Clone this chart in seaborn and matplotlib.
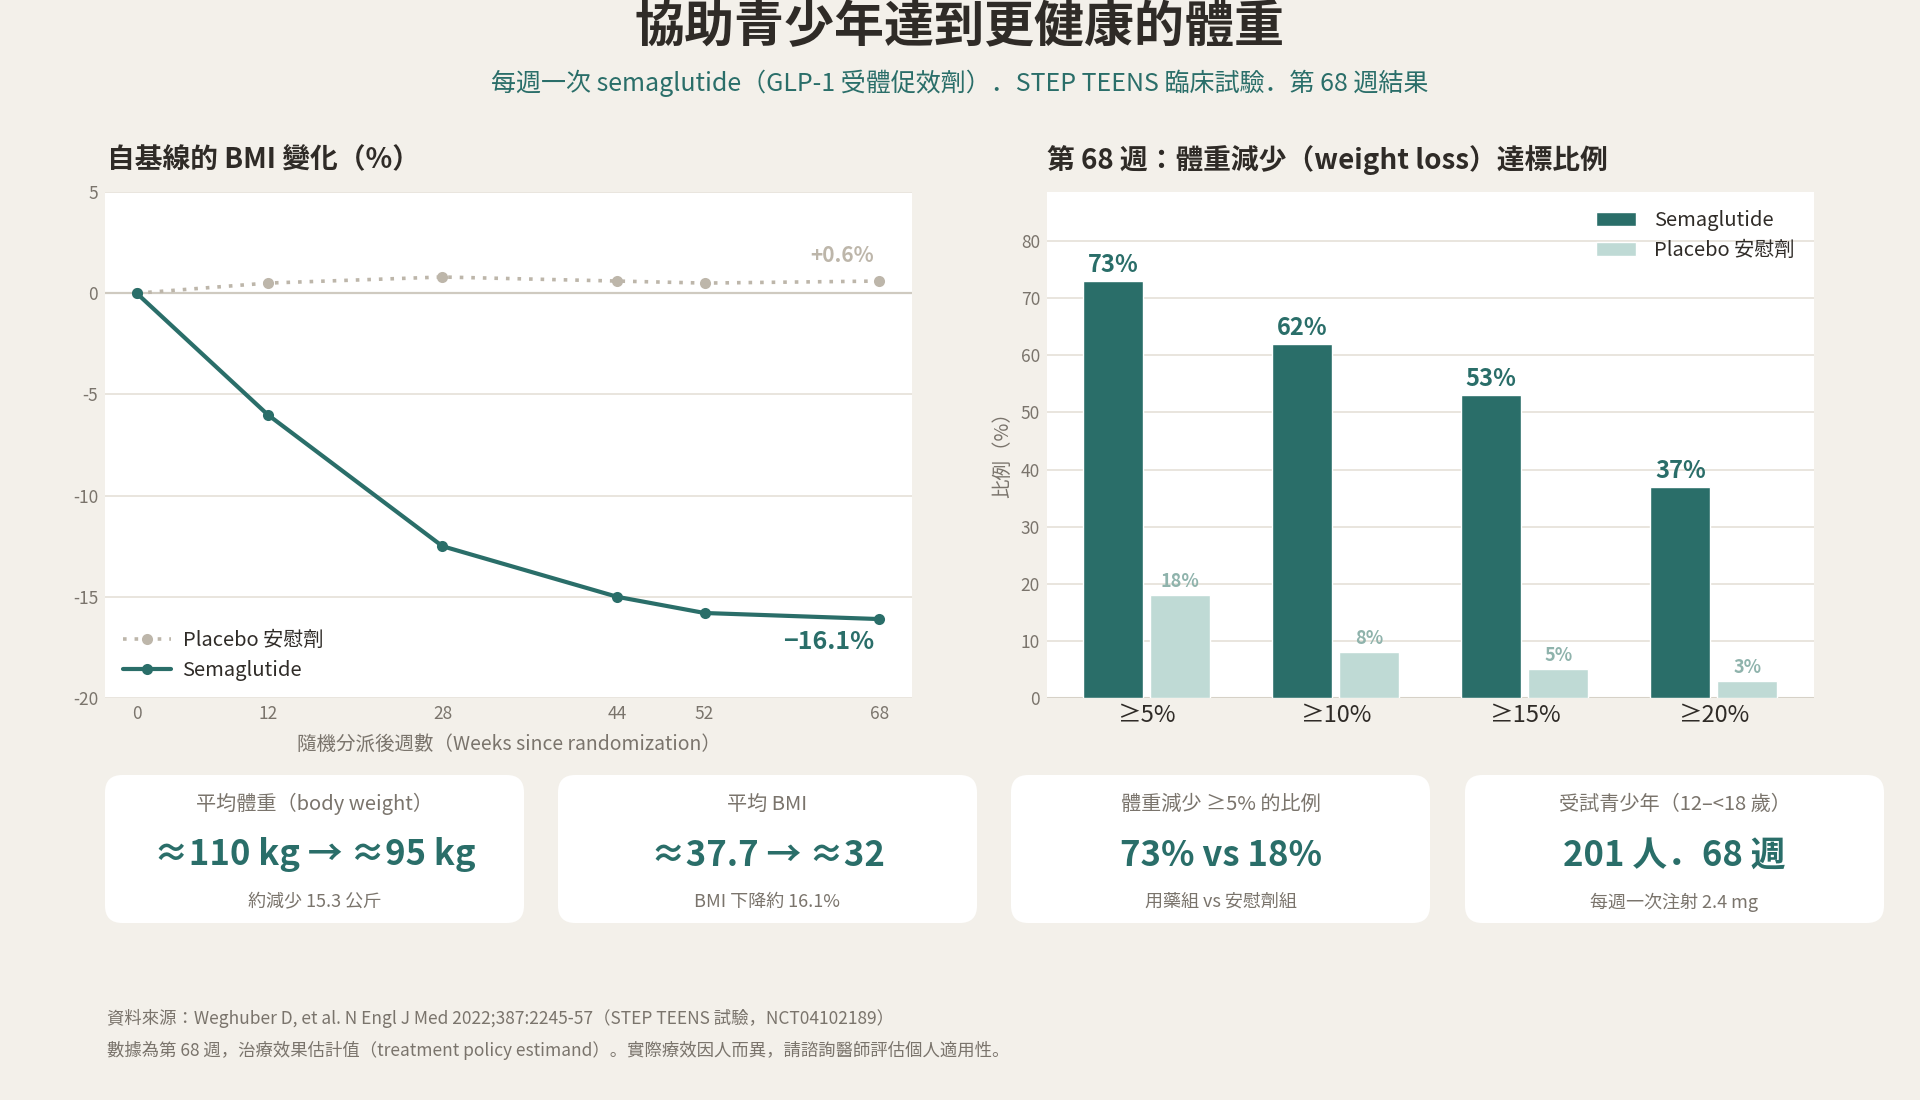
import numpy as np
import pandas as pd
import matplotlib
matplotlib.use("Agg")
import matplotlib.pyplot as plt
from matplotlib.patches import FancyBboxPatch
import seaborn as sns

# ---------------- data ----------------
weeks = [0, 12, 28, 44, 52, 68]
sema_bmi = [0.0, -6.0, -12.5, -15.0, -15.8, -16.1]
placebo_bmi = [0.0, 0.5, 0.8, 0.6, 0.5, 0.6]

thresholds = ["≥5%", "≥10%", "≥15%", "≥20%"]
sema_pct = [73, 62, 53, 37]
placebo_pct = [18, 8, 5, 3]

card_titles = ["平均體重（body weight）", "平均 BMI", "體重減少 ≥5% 的比例", "受試青少年（12–<18 歲）"]
card_values = ["≈110 kg → ≈95 kg", "≈37.7 → ≈32", "73% vs 18%", "201 人．68 週"]
card_notes = ["約減少 15.3 公斤", "BMI 下降約 16.1%", "用藥組 vs 安慰劑組", "每週一次注射 2.4 mg"]

# ---------------- style ----------------
BG = "#f3f0ea"
TEAL = "#2a6e69"
LTEAL = "#bfdad5"
PGREY = "#bdb6aa"
DARK = "#2f2b27"
GREY = "#7a746c"
GRID = "#e7e3db"

sns.set_theme(style="white")
FAM = ["Noto Sans CJK JP", "DejaVu Sans"]
plt.rcParams["font.family"] = FAM
plt.rcParams["axes.unicode_minus"] = False

W, H = 1920, 1100
fig = plt.figure(figsize=(19.2, 11), dpi=100, facecolor=BG)


def fx(px):
    return px / W


def fy(py):
    return 1 - py / H


def add_ax(x0, y0, x1, y1):
    return fig.add_axes([fx(x0), fy(y1), fx(x1) - fx(x0), (y1 - y0) / H])


# titles
fig.text(0.5, fy(28), "協助青少年達到更健康的體重", ha="center", va="center",
         fontsize=36, fontweight="bold", color=DARK)
fig.text(0.5, fy(83), "每週一次 semaglutide（GLP-1 受體促效劑）．STEP TEENS 臨床試驗．第 68 週結果",
         ha="center", va="center", fontsize=18, color=TEAL)

fig.text(fx(107), fy(160), "自基線的 BMI 變化（%）", ha="left", va="center",
         fontsize=20, fontweight="bold", color=DARK)
fig.text(fx(1047), fy(160), "第 68 週：體重減少（weight loss）達標比例", ha="left", va="center",
         fontsize=20, fontweight="bold", color=DARK)

# ---------------- left: line chart ----------------
ax1 = add_ax(105, 192, 912, 698)
ax1.set_facecolor("white")
df_p = pd.DataFrame({"week": weeks, "val": placebo_bmi})
df_s = pd.DataFrame({"week": weeks, "val": sema_bmi})
sns.lineplot(data=df_p, x="week", y="val", ax=ax1, color=PGREY, linestyle=(0, (1, 2.2)),
             linewidth=2.6, marker="o", markersize=8, markeredgewidth=0,
             label="Placebo 安慰劑", zorder=3)
sns.lineplot(data=df_s, x="week", y="val", ax=ax1, color=TEAL, linewidth=3,
             marker="o", markersize=8, markeredgewidth=0, label="Semaglutide", zorder=4)
ax1.set_xlim(-2.9, 71)
ax1.set_ylim(-20, 5)
ax1.set_xticks(weeks)
ax1.set_yticks([-20, -15, -10, -5, 0, 5])
ax1.set_yticklabels(["-20", "-15", "-10", "-5", "0", "5"])
for y in [-20, -15, -10, -5, 5]:
    ax1.axhline(y, color=GRID, linewidth=1.3, zorder=0)
ax1.axhline(0, color="#cfcac0", linewidth=1.6, zorder=1)
for s in ax1.spines.values():
    s.set_visible(False)
ax1.tick_params(axis="both", length=0, labelsize=12.5, colors=GREY, pad=5)
ax1.set_xlabel("隨機分派後週數（Weeks since randomization）", fontsize=14, color=GREY, labelpad=8)
ax1.set_ylabel("")
ax1.annotate("+0.6%", xy=(weeks[-1], placebo_bmi[-1]), xytext=(-4, 11), textcoords="offset points",
             ha="right", va="bottom", fontsize=15, fontweight="bold", color=PGREY)
ax1.annotate("−16.1%", xy=(weeks[-1], sema_bmi[-1]), xytext=(-4, -8), textcoords="offset points",
             ha="right", va="top", fontsize=18, fontweight="bold", color=TEAL)
leg1 = ax1.legend(loc="lower left", frameon=False, fontsize=14.5, bbox_to_anchor=(0.0, -0.002),
                  handlelength=2.4, labelspacing=0.45, handletextpad=0.55)
for t in leg1.get_texts():
    t.set_color(DARK)

# ---------------- right: bar chart ----------------
ax2 = add_ax(1047, 192, 1814, 698)
ax2.set_facecolor("white")
df_b = pd.DataFrame({
    "threshold": thresholds * 2,
    "pct": sema_pct + placebo_pct,
    "group": ["Semaglutide"] * 4 + ["Placebo 安慰劑"] * 4,
})
sns.barplot(data=df_b, x="threshold", y="pct", hue="group", ax=ax2,
            palette={"Semaglutide": TEAL, "Placebo 安慰劑": LTEAL},
            width=0.71, gap=0.11, saturation=1, zorder=3)
ax2.set_xlim(-0.527, 3.53)
ax2.set_ylim(0, 88.6)
ax2.set_yticks(range(0, 90, 10))
for y in range(10, 90, 10):
    ax2.axhline(y, color=GRID, linewidth=1.3, zorder=0)
ax2.axhline(0, color="#d6d1c7", linewidth=1.5, zorder=1)
for s in ax2.spines.values():
    s.set_visible(False)
ax2.tick_params(axis="y", length=0, labelsize=12.5, colors=GREY, pad=5)
ax2.tick_params(axis="x", length=0, labelsize=17, colors=DARK, pad=4)
ax2.set_xlabel("")
ax2.set_ylabel("比例（%）", fontsize=14, color=GREY)
ax2.yaxis.set_label_coords(-0.044, 0.49)

for i, cont in enumerate(ax2.containers):
    if i == 0:
        ax2.bar_label(cont, labels=[f"{v}%" for v in sema_pct], padding=3,
                      fontsize=17, fontweight="bold", color=TEAL)
    else:
        ax2.bar_label(cont, labels=[f"{v}%" for v in placebo_pct], padding=3,
                      fontsize=13, fontweight="bold", color="#8fb3ac")

leg2 = ax2.legend(loc="upper right", frameon=False, fontsize=14.5, bbox_to_anchor=(0.9857, 0.98),
                  borderaxespad=0, handlelength=2.0, handleheight=0.7, labelspacing=0.45,
                  handletextpad=0.9)
for t in leg2.get_texts():
    t.set_color(DARK)

# ---------------- cards ----------------
card_x = [105, 558, 1011, 1465]
card_w = 419
cy0, cy1 = 775, 923
for x0, t, v, n in zip(card_x, card_titles, card_values, card_notes):
    box = FancyBboxPatch((fx(x0), fy(cy1)), fx(card_w), (cy1 - cy0) / H,
                         boxstyle="round,pad=0,rounding_size=0.009",
                         transform=fig.transFigure, facecolor="white", edgecolor="none",
                         mutation_aspect=W / H)
    fig.patches.append(box)
    cx = fx(x0 + card_w / 2)
    fig.text(cx, fy(804), t, ha="center", va="center", fontsize=14.5, color=GREY)
    fig.text(cx, fy(855), v, ha="center", va="center", fontsize=25, fontweight="bold", color=TEAL)
    fig.text(cx, fy(902), n, ha="center", va="center", fontsize=13, color=GREY)

# ---------------- footer ----------------
fig.text(fx(107), fy(1018), "資料來源：Weghuber D, et al. N Engl J Med 2022;387:2245-57（STEP TEENS 試驗，NCT04102189）",
         ha="left", va="center", fontsize=12.5, color=GREY)
fig.text(fx(107), fy(1050), "數據為第 68 週，治療效果估計值（treatment policy estimand）。實際療效因人而異，請諮詢醫師評估個人適用性。",
         ha="left", va="center", fontsize=12.5, color=GREY)

fig.savefig("out.png", dpi=100, facecolor=BG)
